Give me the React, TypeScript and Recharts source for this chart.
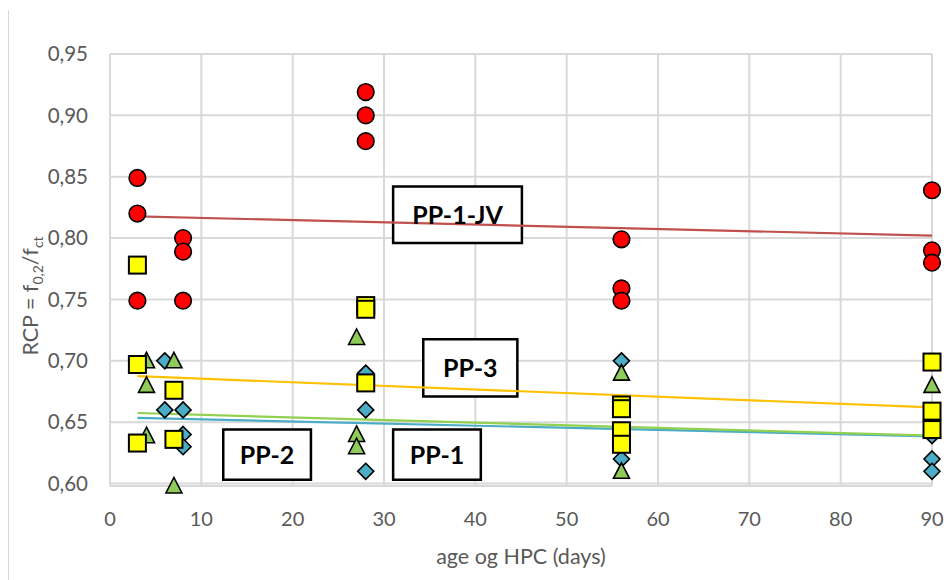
import React from 'react';
import { ScatterChart, Scatter, XAxis, YAxis, CartesianGrid, ReferenceArea, Label } from 'recharts';

// ---- data ----
const pp1Age = [6, 6, 8, 8, 8, 28, 28, 28, 56, 56, 90, 90, 90];
const pp1Rcp = [0.70, 0.66, 0.66, 0.64, 0.63, 0.69, 0.66, 0.61, 0.70, 0.62, 0.639, 0.62, 0.61];

const pp2Age = [4, 4, 4, 7, 7, 27, 27, 27, 56, 56, 90];
const pp2Rcp = [0.70, 0.68, 0.639, 0.70, 0.598, 0.719, 0.64, 0.63, 0.69, 0.61, 0.68];

const pp3Age = [3, 3, 3, 7, 7, 28, 28, 28, 56, 56, 56, 56, 90, 90, 90];
const pp3Rcp = [0.778, 0.697, 0.633, 0.676, 0.636, 0.745, 0.742, 0.682, 0.664, 0.661, 0.643, 0.632, 0.699, 0.659, 0.644];

const jvAge = [3, 3, 3, 8, 8, 8, 28, 28, 28, 56, 56, 56, 90, 90, 90];
const jvRcp = [0.849, 0.82, 0.749, 0.80, 0.789, 0.749, 0.919, 0.90, 0.879, 0.799, 0.759, 0.749, 0.839, 0.79, 0.78];

const trendAge = [3, 90];
const trendPP1 = [0.6535, 0.6385];
const trendPP2 = [0.6575, 0.639];
const trendPP3 = [0.6875, 0.662];
const trendJV = [0.8177, 0.802];

const xTicks = [0, 10, 20, 30, 40, 50, 60, 70, 80, 90];
const yTicks = [0.6, 0.65, 0.7, 0.75, 0.8, 0.85, 0.9, 0.95];

const boxLabels = ['PP-1-JV', 'PP-3', 'PP-1', 'PP-2'];
const boxX1 = [31.0, 34.3, 31.0, 12.4];
const boxX2 = [45.1, 44.6, 40.6, 22.0];
const boxY1 = [0.796, 0.671, 0.603, 0.603];
const boxY2 = [0.842, 0.7175, 0.644, 0.644];

const pts = (xs: number[], ys: number[]) => xs.map((x, i) => ({ x, y: ys[i] }));

const FONT = 'Lato, "Open Sans", sans-serif';

const Circle = (p: any) => <circle cx={p.cx} cy={p.cy} r={8.3} fill="#FF0000" stroke="#000" strokeWidth={1.6} />;
const Square = (p: any) => <rect x={p.cx - 8.5} y={p.cy - 8.5} width={17} height={17} fill="#FFFF00" stroke="#000" strokeWidth={2} />;
const Triangle = (p: any) => (
  <polygon points={`${p.cx},${p.cy - 8.5} ${p.cx + 8},${p.cy + 7} ${p.cx - 8},${p.cy + 7}`} fill="#8FCB58" stroke="#000" strokeWidth={1.6} />
);
const Diamond = (p: any) => (
  <polygon points={`${p.cx},${p.cy - 8} ${p.cx + 8},${p.cy} ${p.cx},${p.cy + 8} ${p.cx - 8},${p.cy}`} fill="#4BACC6" stroke="#000" strokeWidth={1.6} />
);
const NoDot = () => <g />;

const fmt = (v: number) => v.toFixed(2).replace('.', ',');

export default function App() {
  return (
    <div style={{ position: 'absolute', left: 0, top: 0, width: 947, height: 580, background: '#fff' }}>
      <div style={{ position: 'absolute', left: 8, top: 10, width: 0, height: 570, borderLeft: '1px solid #d9d9d9' }} />
      <ScatterChart width={947} height={580} margin={{ top: 54, right: 15, bottom: 0, left: 0 }}>
        <CartesianGrid stroke="#d9d9d9" strokeWidth={2} />
        <XAxis
          type="number"
          dataKey="x"
          domain={[0, 90]}
          ticks={xTicks}
          height={94}
          tickSize={0}
          tickMargin={26}
          axisLine={false}
          tickLine={false}
          tick={{ fill: '#595959', fontSize: 20, fontFamily: FONT }}
          interval={0}
        >
          <Label value="age og HPC (days)" position="insideBottom" offset={16} fill="#595959" fontSize={21.5} fontFamily={FONT} />
        </XAxis>
        <YAxis
          type="number"
          dataKey="y"
          domain={[0.6, 0.95]}
          ticks={yTicks}
          width={110}
          tickSize={0}
          tickMargin={22}
          axisLine={false}
          tickLine={false}
          tickFormatter={fmt}
          tick={{ fill: '#595959', fontSize: 20.5, fontFamily: FONT }}
          interval={0}
        />
        <Scatter data={pts(trendAge, trendPP1)} line={{ stroke: '#4BACC6', strokeWidth: 2.2 }} stroke="#4BACC6" shape={NoDot} isAnimationActive={false} />
        <Scatter data={pts(trendAge, trendPP2)} line={{ stroke: '#92D050', strokeWidth: 2.2 }} stroke="#92D050" shape={NoDot} isAnimationActive={false} />
        <Scatter data={pts(trendAge, trendPP3)} line={{ stroke: '#FFC000', strokeWidth: 2.2 }} stroke="#FFC000" shape={NoDot} isAnimationActive={false} />
        <Scatter data={pts(trendAge, trendJV)} line={{ stroke: '#C0504D', strokeWidth: 2.2 }} stroke="#C0504D" shape={NoDot} isAnimationActive={false} />
        {boxLabels.map((lab, i) => (
          <ReferenceArea
            key={lab}
            x1={boxX1[i]}
            x2={boxX2[i]}
            y1={boxY1[i]}
            y2={boxY2[i]}
            fill="#ffffff"
            fillOpacity={1}
            stroke="#000"
            strokeWidth={2.5}
            label={{ value: lab, position: 'center', fill: '#000', fontSize: 25, fontWeight: 700, fontFamily: FONT }}
          />
        ))}
        <Scatter data={pts(pp1Age, pp1Rcp)} shape={Diamond} isAnimationActive={false} />
        <Scatter data={pts(pp2Age, pp2Rcp)} shape={Triangle} isAnimationActive={false} />
        <Scatter data={pts(pp3Age, pp3Rcp)} shape={Square} isAnimationActive={false} />
        <Scatter data={pts(jvAge, jvRcp)} shape={Circle} isAnimationActive={false} />
      </ScatterChart>
      <svg width={80} height={580} style={{ position: 'absolute', left: 0, top: 0, pointerEvents: 'none' }}>
        <text x={38} y={296} transform="rotate(-90 38 296)" textAnchor="middle" fontSize={21.5} fill="#595959" fontFamily={FONT}>
          RCP = f<tspan fontSize={14} dy={5}>0,2</tspan>
          <tspan dy={-5}>/f</tspan>
          <tspan fontSize={14} dy={5}>ct</tspan>
        </text>
      </svg>
    </div>
  );
}
